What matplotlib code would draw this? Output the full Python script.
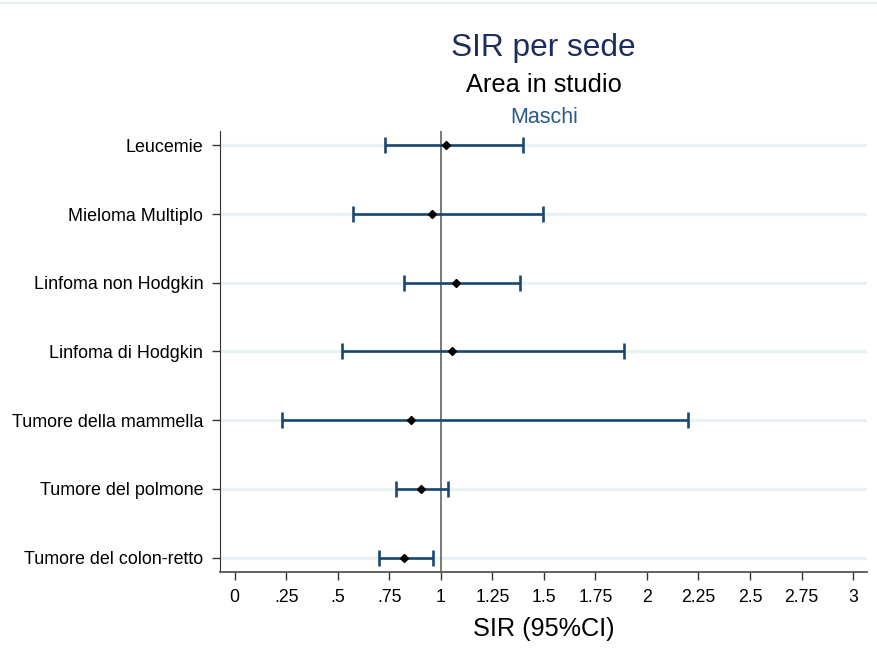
import matplotlib
matplotlib.use("Agg")
import matplotlib.pyplot as plt
from matplotlib.lines import Line2D

plt.rcParams['font.family'] = ['Liberation Sans', 'DejaVu Sans']

# SIR per sede, maschi (stima e IC 95%)
sedi = ['Leucemie', 'Mieloma Multiplo', 'Linfoma non Hodgkin', 'Linfoma di Hodgkin',
        'Tumore della mammella', 'Tumore del polmone', 'Tumore del colon-retto']
sir = [1.023, 0.955, 1.076, 1.055, 0.855, 0.903, 0.822]
ic_low = [0.727, 0.574, 0.822, 0.523, 0.230, 0.785, 0.700]
ic_high = [1.400, 1.497, 1.385, 1.890, 2.200, 1.035, 0.963]

xticks = [0, 0.25, 0.5, 0.75, 1, 1.25, 1.5, 1.75, 2, 2.25, 2.5, 2.75, 3]
xticklabels = ['0', '.25', '.5', '.75', '1', '1.25', '1.5', '1.75', '2', '2.25', '2.5', '2.75', '3']

navy = '#1a476f'

fig = plt.figure(figsize=(8.78, 6.63), dpi=100)
ax = fig.add_axes([0.2506, 0.1373, 0.7374, 0.6651])

pos = list(range(1, len(sedi) + 1))

for y in pos:
    ax.axhline(y, color='#e8f1f3', lw=2.4, zorder=0)
ax.axvline(1, color='#555555', lw=1.1, zorder=1)

err_lo = [s - l for s, l in zip(sir, ic_low)]
err_hi = [h - s for s, h in zip(sir, ic_high)]
ax.errorbar(sir, pos, xerr=[err_lo, err_hi], fmt='none', ecolor=navy,
            elinewidth=1.9, capsize=6, capthick=1.9, zorder=2)
ax.plot(sir, pos, 'D', color='black', markersize=4.3, zorder=3)

ax.set_xlim(-0.071, 3.07)
ax.set_ylim(7.21, 0.79)
ax.set_yticks(pos)
ax.set_yticklabels(sedi, fontsize=12.9)
ax.set_xticks(xticks)
ax.set_xticklabels(xticklabels, fontsize=12.7)
ax.tick_params(axis='both', length=6, width=1, color='#333333', pad=6)
ax.set_xlabel('SIR (95%CI)', fontsize=18.2, labelpad=8)

for side in ['top', 'right']:
    ax.spines[side].set_visible(False)
ax.spines['left'].set_color('#333333')
ax.spines['bottom'].set_color('#555555')
ax.spines['bottom'].set_linewidth(1.3)

xc = 0.2506 + 0.7374 / 2
fig.text(xc, 1 - 56 / 663, 'SIR per sede', ha='center', va='baseline',
         fontsize=22.8, color='#1c2d5c')
fig.text(xc, 1 - 91.7 / 663, 'Area in studio', ha='center', va='baseline',
         fontsize=18.3, color='black')
fig.text(xc, 1 - 122.7 / 663, 'Maschi', ha='center', va='baseline',
         fontsize=15.5, color='#2a5a8c')

# sottile bordo superiore
fig.add_artist(Line2D([0, 1], [1 - 2.5 / 663, 1 - 2.5 / 663], transform=fig.transFigure,
                      color='#e6eef0', lw=1.5))

fig.savefig('out.png', dpi=100)
